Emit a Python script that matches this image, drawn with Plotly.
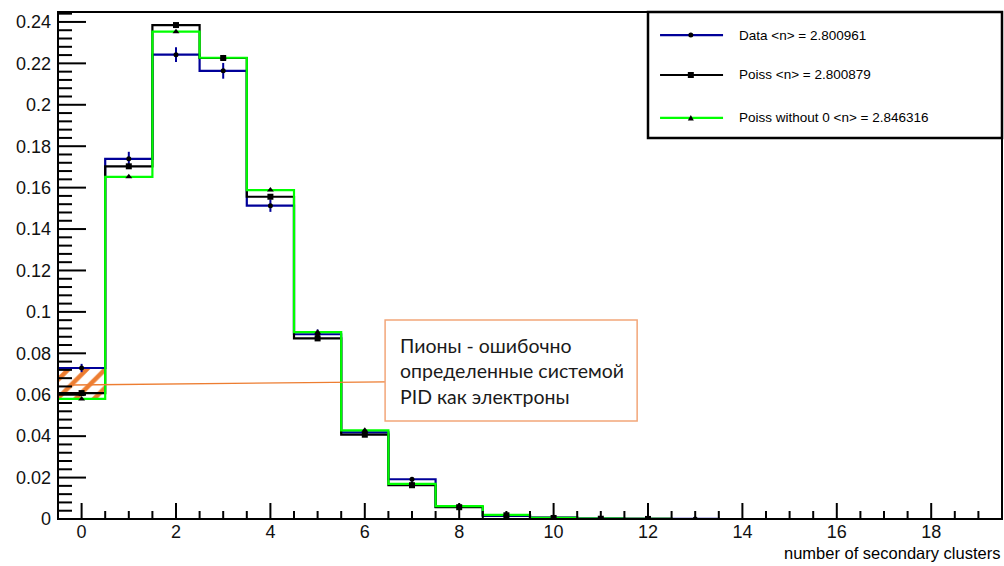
import plotly.graph_objects as go

# Bin centres (number of secondary clusters) and normalised bin contents
bins = list(range(20))
data_vals = [0.0729, 0.1739, 0.2242, 0.2164, 0.1513, 0.0892, 0.0418, 0.0192, 0.0058, 0.0015,
             0.0007, 0.0002, 0.0001, 0.00005, 0, 0, 0, 0, 0, 0]
data_err = [0.0020, 0.0034, 0.0036, 0.0038, 0.0030, 0.0023, 0.0016, 0.0011, 0.0006, 0.0003,
            0.0002, 0.0001, 0.0001, 0.00005, 0, 0, 0, 0, 0, 0]
poiss_vals = [0.0608, 0.1703, 0.2385, 0.2226, 0.1556, 0.0872, 0.0407, 0.0163, 0.0057, 0.0018,
              0.0005, 0.00013, 0.00003, 0, 0, 0, 0, 0, 0, 0]
poiss_no0_vals = [0.0580, 0.1652, 0.2353, 0.2227, 0.1588, 0.0902, 0.0428, 0.0170, 0.0062, 0.0020,
                  0.0006, 0.00016, 0.00004, 0.00001, 0, 0, 0, 0, 0, 0]

legend_labels = ["Data <n> = 2.800961", "Poiss <n> = 2.800879", "Poiss without 0 <n> = 2.846316"]
note_lines = ["Пионы - ошибочно", "определенные системой", "PID как электроны"]
x_title = "number of secondary clusters"

C_DATA = "#000099"
C_POISS = "#000000"
C_NO0 = "#00ff00"
C_ORANGE = "#ED7D31"
C_BOX = "#F2A679"
FONT = "Liberation Sans"

W, H = 1004, 566
M_L, M_R, M_T, M_B = 58, 2, 12, 47
X_RANGE = [-0.5, 19.5]
Y_RANGE = [0, 0.2448]
PLOT_W = W - M_L - M_R
PLOT_H = H - M_T - M_B

# Step outline: bin edges at centre +/- 0.5
edges = [b - 0.5 for b in bins] + [bins[-1] + 0.5]


def step_y(vals):
    return list(vals) + [vals[-1]]


fig = go.Figure()

# Hatched band between the two bin-0 contents (misidentified pions)
fig.add_trace(go.Bar(
    x=[bins[0]], y=[data_vals[0] - poiss_no0_vals[0]], base=[poiss_no0_vals[0]], width=[1.0],
    marker=dict(color=C_ORANGE, line=dict(width=0),
                pattern=dict(shape="/", fgcolor=C_ORANGE, fgopacity=1, bgcolor="rgba(0,0,0,0)",
                             fillmode="overlay", size=13, solidity=0.35)),
    showlegend=False, hoverinfo="skip"))

series = [
    (data_vals, C_DATA, "circle", 5, data_err),
    (poiss_vals, C_POISS, "square", 6, None),
    (poiss_no0_vals, C_NO0, "triangle-up", 6, None),
]

for vals, col, sym, msz, err in series:
    fig.add_trace(go.Scatter(x=edges, y=step_y(vals), mode="lines", line_shape="hv",
                             line=dict(color=col, width=2.2), showlegend=False, hoverinfo="skip"))

for vals, col, sym, msz, err in series:
    xs = [b for b, v in zip(bins, vals) if v > 0]
    ys = [v for v in vals if v > 0]
    kw = {}
    if err is not None:
        es = [e for e, v in zip(err, vals) if v > 0]
        kw["error_y"] = dict(type="data", array=es, color=C_DATA, thickness=2, width=0)
    fig.add_trace(go.Scatter(x=xs, y=ys, mode="markers",
                             marker=dict(symbol=sym, size=msz, color="black"),
                             showlegend=False, **kw))

# Inward-pointing tick marks along the bottom and left axes (ROOT style),
# lengths given in pixels and converted to axis units
x_per_px = (X_RANGE[1] - X_RANGE[0]) / PLOT_W
y_per_px = (Y_RANGE[1] - Y_RANGE[0]) / PLOT_H
for k in range(1, 40):
    xv = X_RANGE[0] + 0.5 * k
    length = 16 if (k - 1) % 4 == 0 else 8
    fig.add_shape(type="line", xref="x", yref="y", x0=xv, x1=xv,
                  y0=Y_RANGE[0], y1=Y_RANGE[0] + length * y_per_px,
                  line=dict(color="#000000", width=2))
for k in range(1, 62):
    yv = 0.004 * k
    if yv > Y_RANGE[1]:
        break
    length = 28 if k % 5 == 0 else 14
    fig.add_shape(type="line", xref="x", yref="y", x0=X_RANGE[0], x1=X_RANGE[0] + length * x_per_px,
                  y0=yv, y1=yv, line=dict(color="#000000", width=2))

# Plot frame
fig.add_shape(type="rect", xref="paper", yref="paper", x0=0, x1=1, y0=0, y1=1,
              line=dict(color="black", width=2), fillcolor="rgba(0,0,0,0)", layer="above")

# Legend box (paper coordinates), sample lines, marker glyphs and labels
LEG_X0, LEG_X1, LEG_Y0, LEG_Y1 = 0.625, 1.0, 0.7515, 1.0
fig.add_shape(type="rect", xref="paper", yref="paper", x0=LEG_X0, x1=LEG_X1, y0=LEG_Y0, y1=LEG_Y1,
              line=dict(color="black", width=2.5), fillcolor="white", layer="below")

leg_rows = [0.817, 0.5, 0.159]
leg_w = LEG_X1 - LEG_X0
leg_h = LEG_Y1 - LEG_Y0
marker_paths = {
    "square": "M-3,-3 L3,-3 L3,3 L-3,3 Z",
    "triangle-up": "M-3,-2.5 L3,-2.5 L0,3 Z",
}
for (vals, col, sym, msz, err), row, label in zip(series, leg_rows, legend_labels):
    py = LEG_Y0 + row * leg_h
    fig.add_shape(type="line", xref="paper", yref="paper",
                  x0=LEG_X0 + 0.034 * leg_w, x1=LEG_X0 + 0.212 * leg_w, y0=py, y1=py,
                  line=dict(color=col, width=2.2))
    mx = LEG_X0 + 0.121 * leg_w
    if sym == "circle":
        fig.add_shape(type="circle", xref="paper", yref="paper", xsizemode="pixel", ysizemode="pixel",
                      xanchor=mx, yanchor=py, x0=-2.5, x1=2.5, y0=-2.5, y1=2.5,
                      line=dict(width=0), fillcolor="black")
    else:
        fig.add_shape(type="path", xref="paper", yref="paper", xsizemode="pixel", ysizemode="pixel",
                      xanchor=mx, yanchor=py, path=marker_paths[sym],
                      line=dict(width=0), fillcolor="black")
    fig.add_annotation(x=LEG_X0 + 0.251 * leg_w, y=py, xref="paper", yref="paper", text=label,
                       showarrow=False, xanchor="left", yanchor="middle",
                       font=dict(family=FONT, size=13.5, color="black"))

# Note box with pointer line to the hatched band
box_x0, box_x1, box_y0, box_y1 = 6.43, 11.77, 0.0473, 0.0961
fig.add_shape(type="line", x0=-0.2, y0=0.0647, x1=box_x0, y1=0.0662,
              line=dict(color=C_ORANGE, width=1.3))
fig.add_shape(type="rect", x0=box_x0, x1=box_x1, y0=box_y0, y1=box_y1,
              line=dict(color=C_BOX, width=1.5), fillcolor="white")
fig.add_annotation(x=box_x0 + 0.27, y=(box_y0 + box_y1) / 2, xref="x", yref="y",
                   text="<br>".join(note_lines), showarrow=False, align="left",
                   xanchor="left", yanchor="middle",
                   font=dict(family="Lato", size=19.5, color="#1a1a1a"))

# Axis title at the right end of the x axis
fig.add_annotation(x=1.0, y=-0.067, xref="paper", yref="paper", text=x_title, showarrow=False,
                   xanchor="right", yanchor="middle", font=dict(family=FONT, size=16.5, color="black"))

fig.update_layout(
    width=W, height=H,
    margin=dict(l=M_L, r=M_R, t=M_T, b=M_B),
    paper_bgcolor="white", plot_bgcolor="white",
    showlegend=False, bargap=0,
    xaxis=dict(range=X_RANGE, tick0=0, dtick=2, ticks="", showline=False, showgrid=False,
               zeroline=False, tickfont=dict(family=FONT, size=18, color="#111111")),
    yaxis=dict(range=Y_RANGE, tick0=0, dtick=0.02, ticks="", showline=False, showgrid=False,
               zeroline=False, ticklabelstandoff=6,
               tickfont=dict(family=FONT, size=18, color="#111111")),
)

fig.write_html("out.html")
